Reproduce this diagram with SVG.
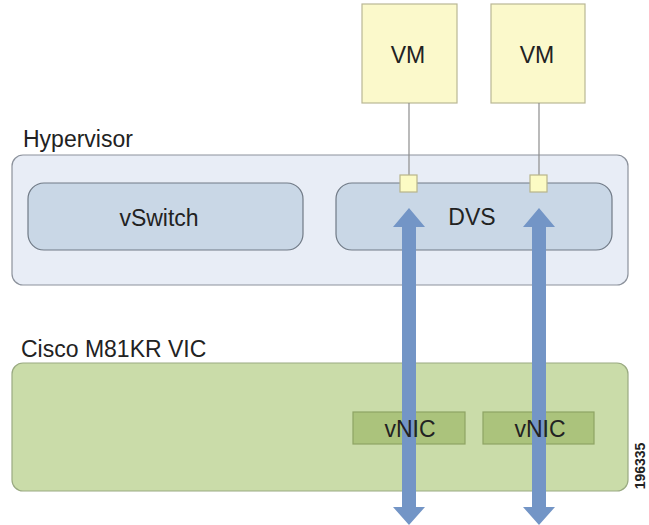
<svg xmlns="http://www.w3.org/2000/svg" width="649" height="525" viewBox="0 0 649 525">
<defs>
<style>
text{font-family:"Liberation Sans",Arial,sans-serif;fill:#222}
.lbl{font-size:23px}
.ctr{text-anchor:middle}
.vm{fill:#fbf9cb;stroke:#b9b795;stroke-width:1.2}
.outer{fill:#e8edf6;stroke:#8c929c;stroke-width:1.2}
.inner{fill:#c9d7e6;stroke:#707a86;stroke-width:1.2}
.vic{fill:#cadca9;stroke:#9aaa82;stroke-width:1.2}
.vnic{fill:#abc37c;stroke:#8ea464;stroke-width:1.2}
.port{fill:#fcfbc4;stroke:#b8b58a;stroke-width:1.2}
.wire{stroke:#8d8d8d;stroke-width:1.2;fill:none}
.arrow{fill:#7395c6}
</style>
</defs>
<g id="hypervisor">
<rect class="outer" x="12" y="155" width="616" height="130" rx="11"/>
<text class="lbl" x="23" y="147">Hypervisor</text>
</g>
<g id="vswitch">
<rect class="inner" x="28" y="183" width="275" height="67" rx="16"/>
<text class="lbl ctr" x="159" y="226">vSwitch</text>
</g>
<g id="dvs">
<rect class="inner" x="336" y="183" width="276" height="67" rx="16"/>
<text class="lbl ctr" x="472" y="225">DVS</text>
</g>
<g id="vic">
<rect class="vic" x="12" y="363" width="616" height="128" rx="11"/>
<text class="lbl" x="21" y="357">Cisco M81KR VIC</text>
</g>
<g id="vm1">
<rect class="vm" x="362" y="4" width="95" height="99"/>
<text class="lbl ctr" x="408" y="63">VM</text>
</g>
<g id="vm2">
<rect class="vm" x="491" y="4" width="94" height="99"/>
<text class="lbl ctr" x="537" y="63">VM</text>
</g>
<g id="vnic1">
<rect class="vnic" x="353" y="412" width="112" height="32"/>
</g>
<g id="vnic2">
<rect class="vnic" x="483" y="412" width="111" height="32"/>
</g>
<g id="connectors">
<line class="wire" x1="409" y1="103" x2="409" y2="175"/>
<line class="wire" x1="539" y1="103" x2="539" y2="175"/>
<polygon class="arrow" points="409,208 425,227 416,227 416,507 425,507 409,525 393,507 402,507 402,227 393,227"/>
<polygon class="arrow" points="539,208 555,227 546,227 546,507 555,507 539,525 523,507 532,507 532,227 523,227"/>
</g>
<g id="ports">
<rect class="port" x="400" y="175" width="17" height="17"/>
<rect class="port" x="530" y="175" width="17" height="17"/>
</g>
<g id="vnic-labels">
<text class="lbl ctr" x="410" y="437">vNIC</text>
<text class="lbl ctr" x="540" y="437">vNIC</text>
</g>
<text x="0" y="0" font-size="14" font-weight="bold" transform="translate(645,466) rotate(-90)" text-anchor="middle">196335</text>
</svg>
